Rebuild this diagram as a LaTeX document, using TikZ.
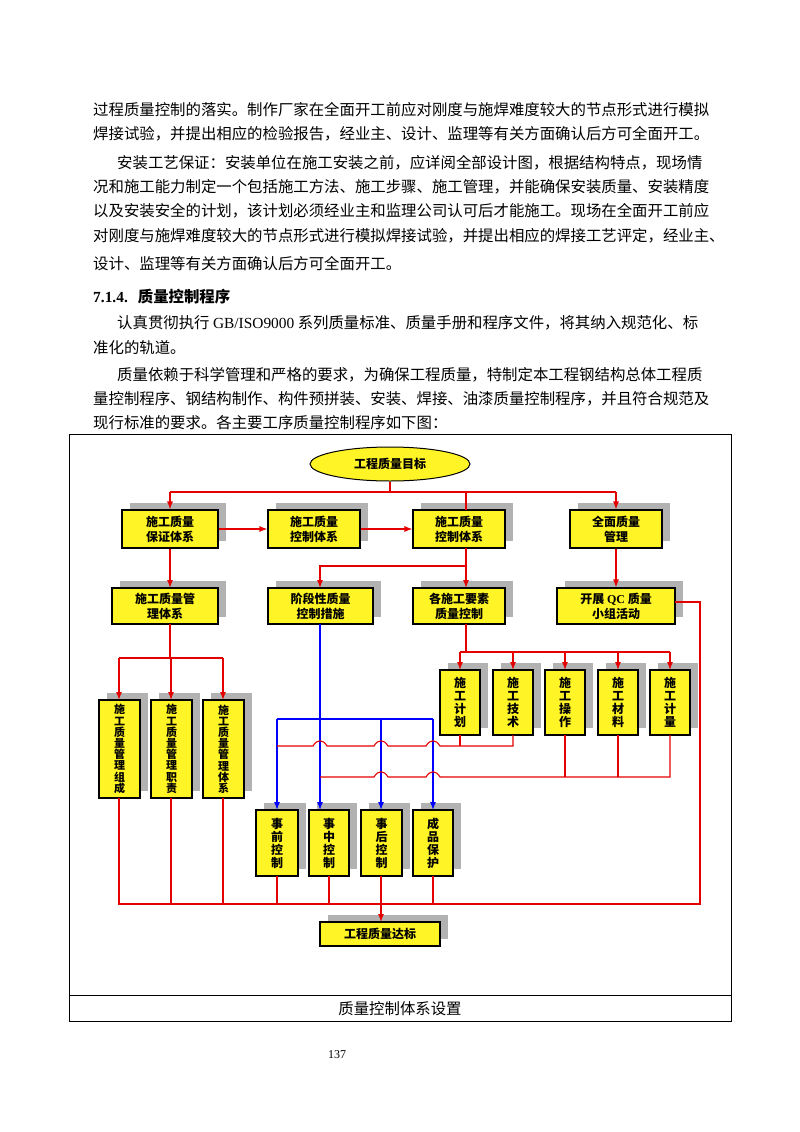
\documentclass[tikz,border=0pt]{standalone}
\usepackage{fontspec}
\setmainfont{Noto Sans CJK SC}
\newfontfamily\latf{Liberation Serif}
\usetikzlibrary{shapes.geometric,arrows.meta}
\tikzset{
 txt/.style={anchor=west,inner sep=0,font=\fontsize{15.4}{15.4}\selectfont},
 bx/.style={draw=black,line width=1.1pt,fill=yellow!85!white,inner sep=0,align=center},
 lab/.style={align=center,font=\bfseries\fontsize{12}{15}\selectfont},
 vlab/.style={align=center,font=\bfseries\fontsize{12}{13}\selectfont},
 rl/.style={draw=red!90!black,line width=1.1pt},
 bl/.style={draw=blue,line width=1.1pt},
 ar/.style={-{Latex[length=8pt,width=6pt]}},
}
\newcommand{\shb}[5]{% name, x1,y1,x2,y2
 \fill[black!30] (#2+8,#3-7) rectangle (#4+8,#5-7);
 \node[bx,minimum width=#4-#2,minimum height=#5-#3] (#1) at ({(#2+#4)/2},{(#3+#5)/2}) {};}
\begin{document}
\begin{tikzpicture}[x=1pt,y=-1pt]
\useasboundingbox (0,0) rectangle (800,1132);
\node[txt] (l1) at (93,110) {过程质量控制的落实。制作厂家在全面开工前应对刚度与施焊难度较大的节点形式进行模拟};
\node[txt] (l2) at (93,134) {焊接试验，并提出相应的检验报告，经业主、设计、监理等有关方面确认后方可全面开工。};
\node[txt] (l3) at (117,163) {安装工艺保证：安装单位在施工安装之前，应详阅全部设计图，根据结构特点，现场情};
\node[txt] (l4) at (93,187) {况和施工能力制定一个包括施工方法、施工步骤、施工管理，并能确保安装质量、安装精度};
\node[txt] (l5) at (93,211) {以及安装安全的计划，该计划必须经业主和监理公司认可后才能施工。现场在全面开工前应};
\node[txt] (l6) at (93,236) {对刚度与施焊难度较大的节点形式进行模拟焊接试验，并提出相应的焊接工艺评定，经业主、};
\node[txt] (l7) at (93,264) {设计、监理等有关方面确认后方可全面开工。};
\node[txt,font=\bfseries\fontsize{15.4}{15.4}\selectfont] (l8) at (93,297) {{\latf 7.1.4.}\hspace{10pt}质量控制程序};
\node[txt] (l9) at (117,323) {认真贯彻执行 {\latf GB/ISO9000} 系列质量标准、质量手册和程序文件，将其纳入规范化、标};
\node[txt] (l10) at (93,348) {准化的轨道。};
\node[txt] (l11) at (117,375) {质量依赖于科学管理和严格的要求，为确保工程质量，特制定本工程钢结构总体工程质};
\node[txt] (l12) at (93,399) {量控制程序、钢结构制作、构件预拼装、安装、焊接、油漆质量控制程序，并且符合规范及};
\node[txt] (l13) at (93,423) {现行标准的要求。各主要工序质量控制程序如下图：};
% frame
\draw[line width=0.8pt] (69,434) rectangle (731,1021);
\draw[line width=0.8pt] (69,995) -- (731,995);
\node[font=\fontsize{15.4}{15.4}\selectfont] (cap) at (400,1009) {质量控制体系设置};
\node[font=\latf\fontsize{12}{12}\selectfont] (pg) at (337,1055) {137};
% top ellipse
\node[ellipse,draw=black,line width=1pt,fill=yellow!85!white,minimum width=160,minimum height=34,font=\bfseries\fontsize{12}{12}\selectfont] (top) at (390,464) {工程质量目标};
% row1
\shb{a1}{122}{510}{218}{548}\node[lab] at (a1) {施工质量\\保证体系};
\shb{a2}{268}{510}{360}{548}\node[lab] at (a2) {施工质量\\控制体系};
\shb{a3}{413}{510}{505}{548}\node[lab] at (a3) {施工质量\\控制体系};
\shb{a4}{570}{510}{662}{548}\node[lab] at (a4) {全面质量\\管理};
% row2
\shb{b1}{112}{588}{218}{624}\node[lab] at (b1) {施工质量管\\理体系};
\shb{b2}{268}{588}{373}{624}\node[lab] at (b2) {阶段性质量\\控制措施};
\shb{b3}{413}{588}{505}{624}\node[lab] at (b3) {各施工要素\\质量控制};
\shb{b4}{557}{588}{675}{624}\node[lab] at (b4) {开展 {\latf QC} 质量\\小组活动};
% left verticals
\shb{c1}{99}{700}{140}{798}\node[align=center,font=\bfseries\fontsize{11}{11.2}\selectfont] at (c1) {施\\工\\质\\量\\管\\理\\组\\成};
\shb{c2}{151}{700}{192}{798}\node[align=center,font=\bfseries\fontsize{11}{11.2}\selectfont] at (c2) {施\\工\\质\\量\\管\\理\\职\\责};
\shb{c3}{203}{700}{244}{798}\node[align=center,font=\bfseries\fontsize{11}{11.2}\selectfont] at (c3) {施\\工\\质\\量\\管\\理\\体\\系};
% right five
\shb{d1}{440}{670}{480}{735}\node[vlab] at (d1) {施\\工\\计\\划};
\shb{d2}{493}{670}{533}{735}\node[vlab] at (d2) {施\\工\\技\\术};
\shb{d3}{545}{670}{585}{735}\node[vlab] at (d3) {施\\工\\操\\作};
\shb{d4}{598}{670}{638}{735}\node[vlab] at (d4) {施\\工\\材\\料};
\shb{d5}{650}{670}{690}{735}\node[vlab] at (d5) {施\\工\\计\\量};
% middle four
\shb{e1}{256}{810}{298}{876}\node[vlab] at (e1) {事\\前\\控\\制};
\shb{e2}{309}{810}{349}{876}\node[vlab] at (e2) {事\\中\\控\\制};
\shb{e3}{361}{810}{402}{876}\node[vlab] at (e3) {事\\后\\控\\制};
\shb{e4}{413}{810}{453}{876}\node[vlab] at (e4) {成\\品\\保\\护};
% final
\shb{f}{320}{922}{440}{946}\node[font=\bfseries\fontsize{12}{12}\selectfont] at (f) {工程质量达标};
% connectors top
\draw[rl] (top.south) -- (390,492);
\draw[rl] (170,492) -- (616,492);
\draw[rl,ar] (170,492) -- (a1.north);
\draw[rl,ar] (616,492) -- (a4.north);
\draw[rl] (466,492) -- (466,510);
\draw[rl,ar] (a1.east) -- (a2.west);
\draw[rl,ar] (a2.east) -- (a3.west);
\draw[rl,ar] (a1.south) -- (170,588);
\draw[rl,ar] (466,548) -- (466,588);
\draw[rl,ar] (466,566) -- (320,566) -- (320,588);
\draw[rl,ar] (a4.south) -- (b4.north);
% left group
\draw[rl] (170,624) -- (170,658);
\draw[rl] (119,658) -- (223,658);
\draw[rl,ar] (119,658) -- (119,700);
\draw[rl,ar] (171,658) -- (171,700);
\draw[rl,ar] (223,658) -- (223,700);
% right group
\draw[rl] (466,624) -- (466,652);
\draw[rl] (460,652) -- (670,652);
\foreach \xx in {460,513,565,618,670}{\draw[rl,ar] (\xx,652) -- (\xx,670);}
% blue
\draw[bl,ar] (320,624) -- (320,810);
\draw[bl] (277,719) -- (433,719);
\draw[bl,ar] (277,719) -- (277,810);
\draw[bl,ar] (381,719) -- (381,810);
\draw[bl,ar] (433,719) -- (433,810);
% red jumping lines
\draw[rl] (513,735) -- (513,746) -- (433+7,746) .. controls (433+3,739) and (433-3,739) .. (433-7,746)
 -- (381+7,746) .. controls (381+3,739) and (381-3,739) .. (381-7,746)
 -- (320+7,746) .. controls (320+3,739) and (320-3,739) .. (320-7,746) -- (277,746);
\draw[rl] (460,735) -- (460,746);
\draw[rl] (670,735) -- (670,777) -- (433+7,777) .. controls (433+3,770) and (433-3,770) .. (433-7,777)
 -- (381+7,777) .. controls (381+3,770) and (381-3,770) .. (381-7,777) -- (320,777);
\draw[rl] (565,735) -- (565,777);
\draw[rl] (618,735) -- (618,777);
% bottom collection
\draw[rl] (119,798) -- (119,904) -- (700,904) -- (700,602) -- (675,602);
\draw[rl] (171,798) -- (171,904);
\draw[rl] (223,798) -- (223,904);
\draw[rl] (277,876) -- (277,904);
\draw[rl] (329,876) -- (329,904);
\draw[rl] (433,876) -- (433,904);
\draw[rl,ar] (381,876) -- (381,922);
\end{tikzpicture}
\end{document}
